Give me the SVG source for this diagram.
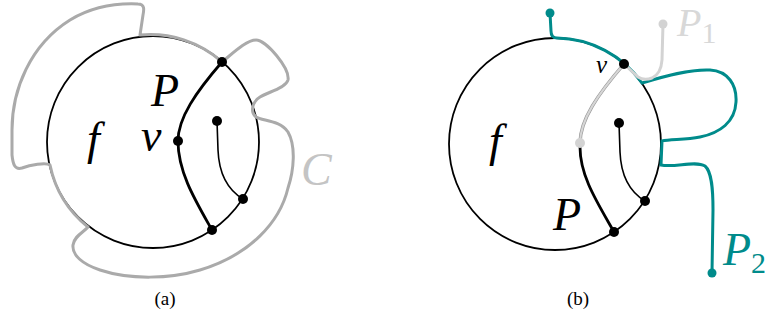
<svg xmlns="http://www.w3.org/2000/svg" width="767" height="331" viewBox="0 0 767 331">
<style>
.face{fill:none;stroke:#000;stroke-width:1.8}
.thin{fill:none;stroke:#000;stroke-width:1.6}
.thick{fill:none;stroke:#000;stroke-width:2.8}
.cur{fill:none;stroke:#aaaaaa;stroke-width:3;stroke-linejoin:round}
.teal{fill:none;stroke:#008b8b;stroke-width:3;stroke-linecap:round}
.p1{fill:none;stroke:#d3d3d3;stroke-width:3;stroke-linecap:round}
.dot{fill:#000}
.lbl{font-family:"Liberation Serif","Times New Roman",serif;font-style:italic;font-size:46px}
.sub{font-style:normal;font-size:30px}
.cap{font-family:"Liberation Serif","Times New Roman",serif;font-size:19px;text-anchor:middle}
</style>
<rect width="767" height="331" fill="#fff"/>

<!-- panel (a) -->
<g id="face-a"><circle class="face" cx="153" cy="142" r="106"/></g>
<g id="connectors-a">
<path id="curve-C" class="cur" d="M140,35 A107,107 0 0 1 222,62 C232,54 246,40 256,40 C266,40 290,68 288,80 C286,88 268,92 260,97 C252,102 250,112 256,117 C262,121 280,120 288,132 C296,146 294,170 288,188 C280,222 250,255 200,270 C170,279 130,280 100,270 C82,264 72,255 73,245 C74,236 84,232 88,227 A107,107 0 0 1 50,165 C46,162 30,165 22,168 C15,170 13,165 12,155 L12,130 C12,90 30,45 70,20 C90,8 115,3 138,4 C145,4 144,10 143,15 L140,35 Z"/>
<path class="thick" d="M222,62 C196,92 178,118 178,141 C178,172 195,200 212,230"/>
<path class="thin" d="M217,121 L218,150 C219,175 228,190 243,199"/>
</g>
<g id="node-a-top"><circle class="dot" cx="222" cy="62" r="5"/></g>
<g id="node-a-v"><circle class="dot" cx="178" cy="141" r="5"/></g>
<g id="node-a-inner"><circle class="dot" cx="217" cy="121" r="5"/></g>
<g id="node-a-right"><circle class="dot" cx="243" cy="199" r="5"/></g>
<g id="node-a-bottom"><circle class="dot" cx="212" cy="230" r="5"/></g>
<g id="labels-a">
<text class="lbl" x="151" y="106">P</text>
<text class="lbl" x="87" y="154">f</text>
<text class="lbl" x="141" y="151">v</text>
<text class="lbl" x="301" y="185" fill="#c4c4c4">C</text>
<text class="cap" x="165" y="305">(a)</text>
</g>

<!-- panel (b) -->
<g id="face-b"><circle class="face" cx="555" cy="144" r="106"/></g>
<g id="connectors-b">
<path id="path-P2" class="teal" d="M550,13 L551,31 Q551,38 557,38 A106,106 0 0 1 642,83 C665,76 690,69 710,70 C728,71 737,85 736,102 C735,122 720,133 700,137 C685,140 670,139 662,141 L661,165 C675,168 695,160 705,166 C712,172 713,190 713,210 L712,273"/>
<path id="path-P-gray" fill="none" stroke="#9a9a9a" stroke-width="3.4" d="M624,64 C598,94 580,120 580,143"/>
<path fill="none" stroke="#d6d6d6" stroke-width="2" d="M624,64 C598,94 580,120 580,143"/>
<path id="path-P1" class="p1" d="M624,64 L638,77 Q644,81 652,78 Q661,74 662,60 L663,24"/>
<path class="thick" d="M580,147 C580,176 597,202 614,232"/>
<path class="thin" d="M619,123 L620,152 C621,177 630,192 645,201"/>
</g>
<g id="node-b-p2start"><circle fill="#008b8b" cx="550" cy="13" r="4.5"/></g>
<g id="node-b-p2end"><circle fill="#008b8b" cx="712" cy="273" r="4.5"/></g>
<g id="node-b-p1end"><circle fill="#d3d3d3" cx="663" cy="24" r="4.5"/></g>
<g id="node-b-gray"><circle fill="#d3d3d3" cx="580" cy="143" r="5"/></g>
<g id="node-b-v"><circle class="dot" cx="624" cy="64" r="5"/></g>
<g id="node-b-inner"><circle class="dot" cx="619" cy="123" r="5"/></g>
<g id="node-b-right"><circle class="dot" cx="645" cy="201" r="5"/></g>
<g id="node-b-bottom"><circle class="dot" cx="614" cy="232" r="5"/></g>
<g id="labels-b">
<text class="lbl" x="553" y="230">P</text>
<text class="lbl" x="489" y="156">f</text>
<text class="lbl" x="596" y="73" style="font-size:25px">v</text>
<text class="lbl" x="677" y="36" fill="#d8d8d8" style="font-size:40px">P<tspan class="sub" dx="0" dy="7">1</tspan></text>
<text class="lbl" x="723" y="265" fill="#008b8b">P<tspan class="sub" dx="0" dy="8">2</tspan></text>
<text class="cap" x="578" y="305">(b)</text>
</g>
</svg>
